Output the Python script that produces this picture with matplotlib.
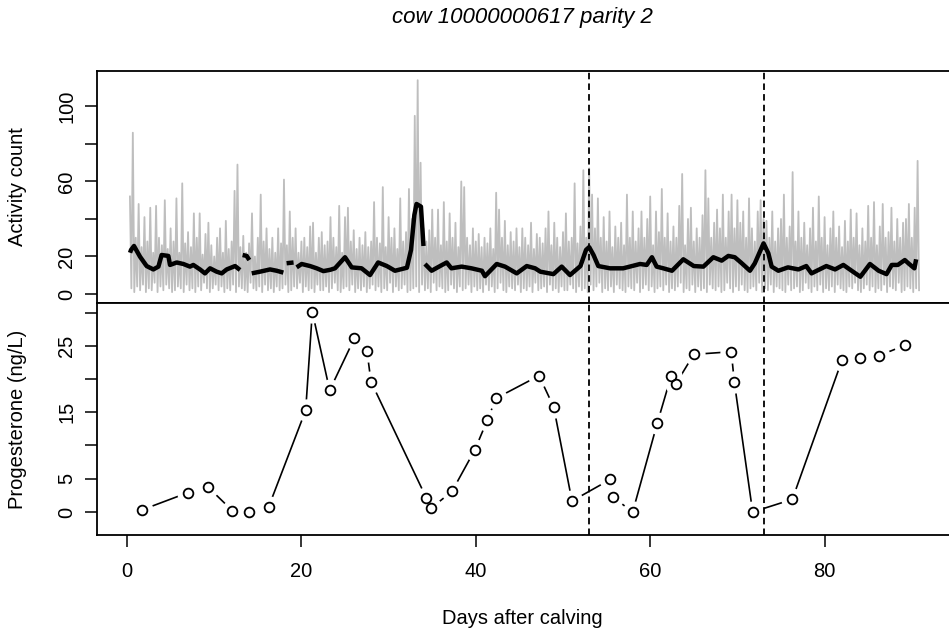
import numpy as np
import matplotlib
matplotlib.use('Agg')
import matplotlib.pyplot as plt

plt.rcParams['font.family'] = ['Liberation Sans', 'DejaVu Sans']

# activity counts: peaks every 8 h (first at day 1/3) with a trough 4 h after each peak
act_high = [52, 86, 30, 48, 25, 41, 28, 46, 22, 47, 30, 26, 50, 24, 35, 28, 51, 22, 59, 27, 33, 25, 43, 30, 43, 21, 32, 38, 26, 20,
            30, 35, 22, 39, 24, 28, 55, 69, 25, 31, 22, 27, 43, 20, 30, 53, 28, 35, 24, 30, 22, 35, 27, 61, 26, 44, 30, 35, 22, 28,
            30, 25, 36, 38, 22, 30, 33, 26, 28, 41, 30, 25, 47, 22, 41, 46, 28, 34, 24, 30, 26, 33, 25, 28, 49, 30, 27, 57, 25, 41,
            30, 35, 24, 51, 28, 33, 56, 40, 95, 114, 70, 35, 28, 34, 45, 30, 45, 26, 49, 28, 43, 30, 38, 25, 60, 57, 30, 26, 35, 28,
            32, 25, 30, 27, 35, 24, 54, 45, 30, 39, 26, 33, 28, 35, 25, 35, 30, 26, 38, 24, 32, 30, 27, 35, 44, 26, 38, 30, 25, 33,
            43, 28, 30, 59, 27, 36, 66, 30, 67, 53, 35, 51, 30, 41, 28, 44, 25, 36, 30, 38, 26, 53, 30, 44, 28, 35, 44, 30, 40, 52,
            26, 44, 33, 56, 30, 43, 28, 36, 30, 47, 64, 26, 40, 46, 28, 35, 30, 42, 66, 51, 30, 38, 45, 35, 53, 30, 44, 53, 35, 50,
            38, 44, 30, 51, 35, 28, 44, 50, 40, 39, 30, 44, 28, 35, 40, 53, 30, 36, 65, 28, 44, 30, 38, 26, 35, 46, 28, 52, 30, 41,
            26, 35, 44, 30, 36, 25, 39, 28, 45, 30, 43, 26, 35, 28, 47, 30, 49, 26, 36, 48, 30, 33, 46, 28, 40, 30, 38, 40, 48, 30,
            46, 71]
act_low = [3, 1, 4, 2, 5, 1, 3, 2, 6, 1, 4, 2, 5, 3, 1, 2, 4, 3, 1, 5, 2, 3, 1, 4, 2, 6, 3, 1, 3, 5,
           2, 4, 1, 3, 2, 5, 1, 4, 3, 2, 1, 6, 3, 2, 4, 1, 5, 2, 3, 1, 4, 2, 3, 5, 1, 2, 4, 3, 6, 1,
           4, 2, 3, 1, 5, 2, 2, 4, 1, 3, 6, 2, 1, 3, 4, 2, 5, 1, 3, 2, 4, 1, 3, 5, 2, 4, 1, 3, 2, 6,
           1, 4, 2, 3, 5, 1, 2, 3, 4, 1, 5, 2, 3, 1, 6, 2, 4, 3, 1, 2, 5, 3, 1, 4, 2, 3, 5, 1, 4, 2,
           3, 1, 5, 2, 4, 1, 3, 6, 2, 1, 4, 3, 2, 5, 1, 3, 2, 4, 1, 6, 2, 3, 4, 1, 5, 2, 3, 1, 4, 2,
           2, 5, 3, 1, 4, 2, 3, 1, 5, 2, 4, 6, 1, 3, 2, 4, 1, 5, 3, 2, 1, 4, 3, 2, 6, 1, 3, 5, 2, 4,
           1, 3, 4, 2, 5, 1, 3, 2, 4, 6, 1, 3, 2, 5, 1, 4, 2, 3, 1, 5, 3, 2, 4, 1, 2, 6, 3, 1, 4, 2,
           5, 2, 1, 3, 4, 2, 6, 1, 3, 2, 5, 1, 4, 3, 2, 1, 5, 2, 3, 4, 1, 2, 6, 3, 1, 4, 2, 5, 1, 3,
           2, 4, 1, 5, 3, 2, 1, 4, 3, 6, 2, 1, 3, 5, 2, 4, 1, 3, 2, 5, 1, 4, 3, 2, 6, 1, 2, 4, 3, 1,
           3, 2]

# smoothed activity (nan = gap)
smooth_day = [0.35, 0.46, 0.8, 1.49, 2.25, 3.02, 3.6, 3.97, 4.74, 4.93, 5.7, 6.46, 7.22, 7.6, 8.37, 8.94, 9.52, 10.28,
              10.86, 11.43, 12.39, 12.96, np.nan,
              13.26, 13.72, 14.03, np.nan,
              14.3, 15.25, 16.4, 17.16, 17.93, np.nan,
              18.3, 19.1, np.nan,
              19.45, 20.03, 20.99, 21.75, 22.52, 23.3, 23.85, 25.0, 25.77, 26.9, 27.87, 28.8, 29.8, 30.73, 32.1, 32.57,
              32.95, 33.2, 33.71, 34.0, np.nan,
              34.17, 34.93, 35.9, 36.66, 37.2, 38.38, 39.5, 40.7, 41.05, 42.4, 43.35, 44.69, 45.84, 46.8, 47.4, 48.9,
              49.85, 50.8, 52.0, 52.64, 53.0, 53.5, 54.05, 55.39, 56.9, 58.84, 59.6, 60.2, 60.74, 61.5, 62.5, 63.8, 65.0,
              66.1, 67.24, 68.2, 68.96, 69.7, 70.5, 71.44, 72.0, 73.0, 73.55, 73.93, 74.7, 75.8, 77.0, 77.9, 78.5, 80.2,
              81.2, 82.15, 83.1, 84.1, 85.2, 86.2, 87.1, 87.7, 88.4, 89.2, 89.7, 90.3, 90.5]
smooth_val = [22, 23.5, 25.6, 19.9, 14.9, 13.1, 14.6, 20.8, 20.3, 15.5, 16.8, 16.0, 14.6, 15.5, 13.1, 11.0, 13.7, 11.9,
              11.0, 13.1, 14.9, 12.8, np.nan,
              20.8, 20.3, 18.1, np.nan,
              11.0, 11.9, 13.1, 12.4, 11.4, np.nan,
              16.4, 16.8, np.nan,
              14.2, 16.0, 14.9, 13.7, 12.2, 12.9, 13.7, 19.6, 14.2, 13.7, 10.1, 16.8, 14.9, 12.4, 14.0, 23.5,
              42.1, 48.0, 46.6, 25.6, np.nan,
              16.0, 12.4, 14.9, 16.8, 13.7, 14.6, 13.7, 12.4, 9.5, 16.0, 14.6, 11.0, 14.9, 13.7, 11.9, 10.6,
              14.6, 10.1, 14.9, 23.5, 25.0, 20.8, 14.9, 13.7, 13.7, 16.0, 15.5, 19.6, 14.6, 13.7, 12.4, 18.5, 14.9,
              14.6, 19.6, 17.8, 20.3, 19.6, 16.4, 12.4, 16.4, 27.0, 21.7, 14.6, 12.4, 14.2, 13.1, 14.9, 11.0, 14.9,
              13.1, 15.5, 12.4, 9.2, 16.0, 12.4, 10.6, 15.5, 15.5, 18.1, 16.0, 13.7, 18.5]

# progesterone samples
p4_day = [1.69, 6.96, 9.25, 12.08, 13.99, 16.25, 20.49, 21.25, 23.24, 26.07, 27.52, 27.98, 34.33, 34.9, 37.27,
          39.87, 41.32, 42.32, 47.25, 48.93, 51.03, 55.43, 55.77, 57.99, 60.82, 62.39, 62.96, 64.99, 69.3, 69.65,
          71.75, 76.3, 81.99, 84.06, 86.24, 89.26]
p4_val = [0.3, 2.9, 3.8, 0.2, 0.0, 0.8, 15.3, 30.1, 18.3, 26.1, 24.2, 19.6, 2.1, 0.6, 3.1,
          9.3, 13.8, 17.1, 20.5, 15.8, 1.65, 4.9, 2.2, 0.0, 13.4, 20.4, 19.3, 23.7, 24.1, 19.5,
          0.0, 1.9, 22.8, 23.1, 23.5, 25.1]

events = [53, 73]

act_t = np.arange(1, len(act_high) + 1) / 3.0
t_all = np.column_stack([act_t, act_t + 1 / 6.0]).ravel()
a_all = np.column_stack([act_high, act_low]).ravel()

fig = plt.figure(figsize=(9.49, 6.31), dpi=100)
left = 96.5 / 949
width = (951.9 - 96.5) / 949
ax1 = fig.add_axes([left, 328 / 631, width, 232 / 631])
ax2 = fig.add_axes([left, 96 / 631, width, 232 / 631])

fs = 14.5
for ax in (ax1, ax2):
    ax.set_xlim(-3.5, 94.6)
    ax.spines['right'].set_visible(False)
    for s in ax.spines.values():
        s.set_linewidth(1.3)
    ax.tick_params(axis='both', length=8.5, width=1.1, labelsize=fs, direction='out')
    ax.tick_params(axis='y', pad=6)
    for d in events:
        ax.axvline(d, color='black', lw=1.3, linestyle=(0, (3.6, 2.3)), zorder=4)

# top panel
ax1.plot(t_all, a_all, color='#bebebe', lw=1.3, zorder=1)
ax1.plot(smooth_day, smooth_val, color='black', lw=3.2, zorder=2, solid_capstyle='butt')
ax1.set_ylim(-4.8, 118.9)
ax1.set_yticks([0, 20, 40, 60, 80, 100])
ax1.set_yticklabels(['0', '20', '', '60', '', '100'], rotation=90, va='center')
ax1.set_xticks([])

# bottom panel
ax2.plot(p4_day, p4_val, color='black', lw=1.2, zorder=2)
ax2.plot(p4_day, p4_val, 'o', ms=16, mfc='white', mec='none', zorder=2.1)
ax2.plot(p4_day, p4_val, 'o', ms=7.0, mfc='none', mec='black', mew=1.3, zorder=3)
ax2.set_ylim(-3.46, 31.43)
ax2.set_yticks([0, 5, 10, 15, 20, 25, 30])
ax2.set_yticklabels(['0', '5', '', '15', '', '25', ''], rotation=90, va='center')
ax2.set_xticks([0, 20, 40, 60, 80])
ax2.tick_params(axis='x', pad=11)

fig.text(522 / 949, 1 - 18 / 631, 'cow 10000000617 parity 2', ha='center', va='center',
         fontsize=16, style='italic')
fig.text(522 / 949, 1 - 619 / 631, 'Days after calving', ha='center', va='center', fontsize=fs)
fig.text(18 / 949, 1 - 187 / 631, 'Activity count', ha='center', va='center', rotation=90, fontsize=fs)
fig.text(18 / 949, 1 - 419 / 631, 'Progesterone (ng/L)', ha='center', va='center', rotation=90, fontsize=fs)

fig.savefig('out.png', dpi=100)
